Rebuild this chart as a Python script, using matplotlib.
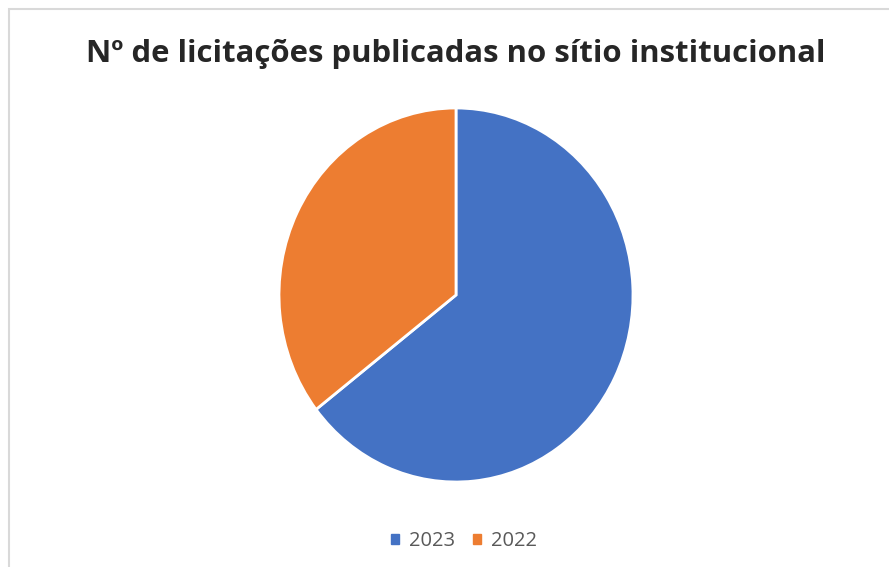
import matplotlib.pyplot as plt
from matplotlib.patches import Rectangle

# dados
anos = ["2023", "2022"]
valores = [20, 11]
cores = ["#4472C4", "#ED7D31"]
titulo = "Nº de licitações publicadas no sítio institucional"

W, H = 889, 567
fig = plt.figure(figsize=(W / 100, H / 100), dpi=100)
fig.patch.set_facecolor("white")

# moldura do gráfico
fig.add_artist(Rectangle((9 / W, -0.05), 1.1, 1 - 9 / H + 0.05, transform=fig.transFigure,
                         fill=False, edgecolor="#d9d9d9", linewidth=1.5))

# área da pizza (levemente elíptica como no original)
ax = fig.add_axes([279 / W, (H - 482) / H, 354 / W, 374 / H])
ax.pie(valores, colors=cores, startangle=90, counterclock=False,
       wedgeprops=dict(edgecolor="white", linewidth=2))
ax.set_aspect("auto")
ax.set_xlim(-1, 1)
ax.set_ylim(-1, 1)
ax.axis("off")

fig.text(456 / W, 1 - 54 / H, titulo, ha="center", va="center",
         fontsize=22.4, fontweight="bold", color="#262626", family=["Open Sans", "DejaVu Sans"])

# legenda
handles = [Rectangle((0, 0), 1, 1, color=c) for c in cores]
fig.legend(handles, anos, loc="center", bbox_to_anchor=(464 / W, 1 - 541 / H),
           ncol=2, frameon=False, handlelength=0.4, handleheight=0.4, handletextpad=0.5,
           columnspacing=0.9, prop={"family": "Open Sans", "size": 14.5}, labelcolor="#595959")

plt.savefig("out.png", dpi=100)
